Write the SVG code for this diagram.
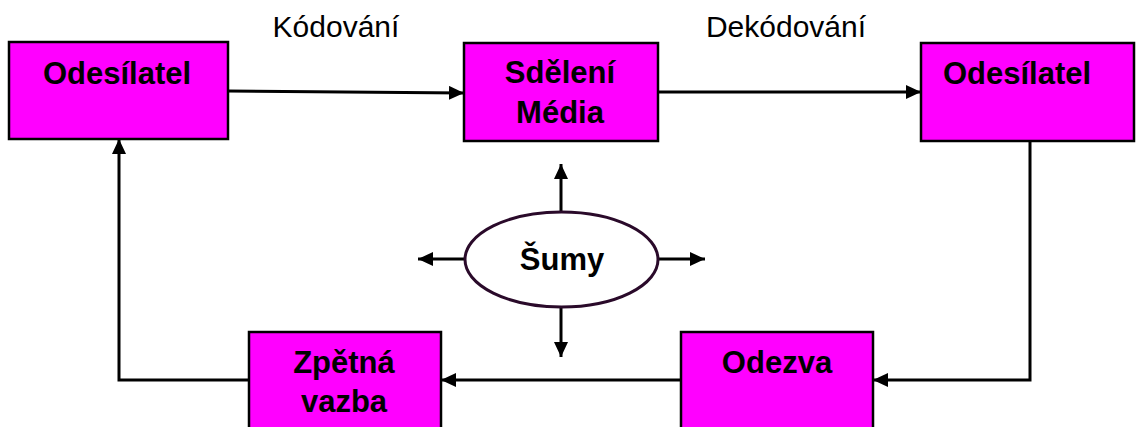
<svg xmlns="http://www.w3.org/2000/svg" width="1137" height="427" viewBox="0 0 1137 427">
<style>
.box{fill:#ff00ff;stroke:#000;stroke-width:2.5}
.bt{font-family:"Liberation Sans",Arial,sans-serif;font-weight:bold;font-size:31px;fill:#000;text-anchor:middle}
.lbl{font-family:"Liberation Sans",Arial,sans-serif;font-size:30px;fill:#000;text-anchor:middle}
.con{fill:none;stroke:#000;stroke-width:3;marker-end:url(#ah)}
</style>
<defs>
<marker id="ah" markerUnits="userSpaceOnUse" markerWidth="16" markerHeight="14" refX="15" refY="7" orient="auto">
<path d="M0,0 L15,7 L0,14 z" fill="#000"/>
</marker>
</defs>
<rect width="1137" height="427" fill="#fff"/>
<g id="labels">
<text class="lbl" x="336" y="37">Kódování</text>
<text class="lbl" x="786" y="37">Dekódování</text>
</g>
<g id="connectors">
<path class="con" d="M228,91 L464,93"/>
<path class="con" d="M658,92 H921"/>
<path class="con" d="M1030,141 V380 H873"/>
<path class="con" d="M681,380 H441"/>
<path class="con" d="M249,380 H119 V139"/>
<path class="con" d="M561,212 V164"/>
<path class="con" d="M465,259 H418"/>
<path class="con" d="M658,259 H705"/>
<path class="con" d="M561,307 V357"/>
</g>
<g id="sender1">
<rect class="box" x="9" y="42" width="219" height="97"/>
<text class="bt" x="117" y="84">Odesílatel</text>
</g>
<g id="message">
<rect class="box" x="464" y="43" width="194" height="98"/>
<text class="bt" x="560" y="83">Sdělení</text>
<text class="bt" x="560" y="123">Média</text>
</g>
<g id="sender2">
<rect class="box" x="921" y="43" width="213" height="98"/>
<text class="bt" x="1017" y="84">Odesílatel</text>
</g>
<g id="feedback">
<rect class="box" x="249" y="332" width="192" height="100"/>
<text class="bt" x="344" y="373">Zpětná</text>
<text class="bt" x="344" y="412">vazba</text>
</g>
<g id="response">
<rect class="box" x="681" y="332" width="192" height="100"/>
<text class="bt" x="777" y="373">Odezva</text>
</g>
<g id="noise">
<ellipse cx="561.5" cy="259.5" rx="96.5" ry="47.5" fill="#fff" stroke="#2a0a2a" stroke-width="3"/>
<text class="bt" x="562" y="270">Šumy</text>
</g>
</svg>
